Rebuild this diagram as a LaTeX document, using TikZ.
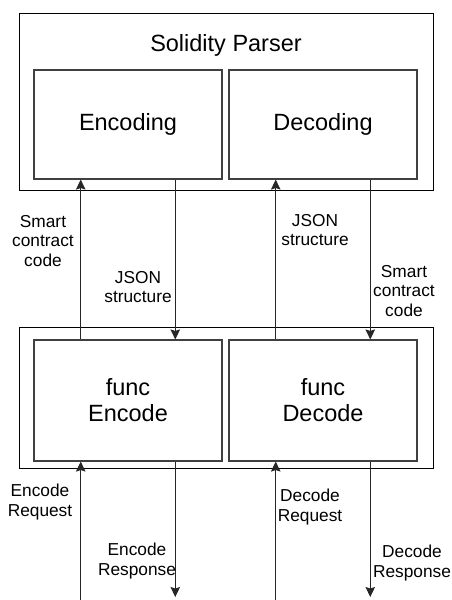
\documentclass[tikz,border=0pt]{standalone}
\usepackage{fontspec}
\setmainfont{Liberation Sans}
\usetikzlibrary{calc,arrows.meta}
\begin{document}
\begin{tikzpicture}[x=1pt,y=-1pt,
  outer/.style={draw=black,line width=0.9pt,minimum width=414pt},
  inner/.style={draw=black!75,line width=1.1pt,minimum width=188pt,align=center,font=\fontsize{23.5}{26}\selectfont},
  lbl/.style={align=center,font=\fontsize{17.3}{19.7}\selectfont,inner sep=0pt},
  arr/.style={draw=black!85,line width=0.9pt,-{Stealth[length=10pt,width=9.5pt,inset=1.5pt]}}]
\useasboundingbox (0,0) rectangle (452,600);
\fill[white] (0,0) rectangle (452,600);
% top group
\node[outer,minimum height=177pt] (top) at (226,101.5) {};
\node[font=\fontsize{23.5}{26}\selectfont,inner sep=0pt] (title) at (226,45) {Solidity Parser};
\node[inner,minimum height=109pt] (enc) at (128,124.5) {Encoding};
\node[inner,minimum height=109pt] (dec) at (323,124.5) {Decoding};
% bottom group
\node[outer,minimum height=141pt] (bot) at (226,397.5) {};
\node[inner,minimum height=121pt] (fenc) at (128,400.5) {func\\Encode};
\node[inner,minimum height=121pt] (fdec) at (323,400.5) {func\\Decode};
% anchor points
\coordinate (e1) at ($(enc.south west)!0.25!(enc.south east)$);
\coordinate (e2) at ($(enc.south west)!0.75!(enc.south east)$);
\coordinate (d1) at ($(dec.south west)!0.25!(dec.south east)$);
\coordinate (d2) at ($(dec.south west)!0.75!(dec.south east)$);
\coordinate (fe1) at ($(fenc.north west)!0.25!(fenc.north east)$);
\coordinate (fe2) at ($(fenc.north west)!0.75!(fenc.north east)$);
\coordinate (fd1) at ($(fdec.north west)!0.25!(fdec.north east)$);
\coordinate (fd2) at ($(fdec.north west)!0.75!(fdec.north east)$);
\coordinate (be1) at ($(fenc.south west)!0.25!(fenc.south east)$);
\coordinate (be2) at ($(fenc.south west)!0.75!(fenc.south east)$);
\coordinate (bd1) at ($(fdec.south west)!0.25!(fdec.south east)$);
\coordinate (bd2) at ($(fdec.south west)!0.75!(fdec.south east)$);
\coordinate (ie1) at (be1 |- 0,600);
\coordinate (oe2) at (be2 |- 0,597);
\coordinate (id1) at (bd1 |- 0,600);
\coordinate (od2) at (bd2 |- 0,597);
% middle arrows
\draw[arr] (fe1) -- (e1);
\draw[arr] (e2) -- (fe2);
\draw[arr] (fd1) -- (d1);
\draw[arr] (d2) -- (fd2);
% bottom arrows
\draw[arr] (ie1) -- (be1);
\draw[arr] (be2) -- (oe2);
\draw[arr] (id1) -- (bd1);
\draw[arr] (bd2) -- (od2);
% labels
\node[lbl] (l1) at (43,241) {Smart\\contract\\code};
\node[lbl] (l2) at (138,287) {JSON\\structure};
\node[lbl] (l3) at (315,230) {JSON\\structure};
\node[lbl] (l4) at (404,291) {Smart\\contract\\code};
\node[lbl] (l5) at (40,502) {Encode\\Request};
\node[lbl] (l6) at (310,507) {Decode\\Request};
\node[lbl] (l7) at (137,561) {Encode\\Response};
\node[lbl] (l8) at (412,563) {Decode\\Response};
\end{tikzpicture}
\end{document}
